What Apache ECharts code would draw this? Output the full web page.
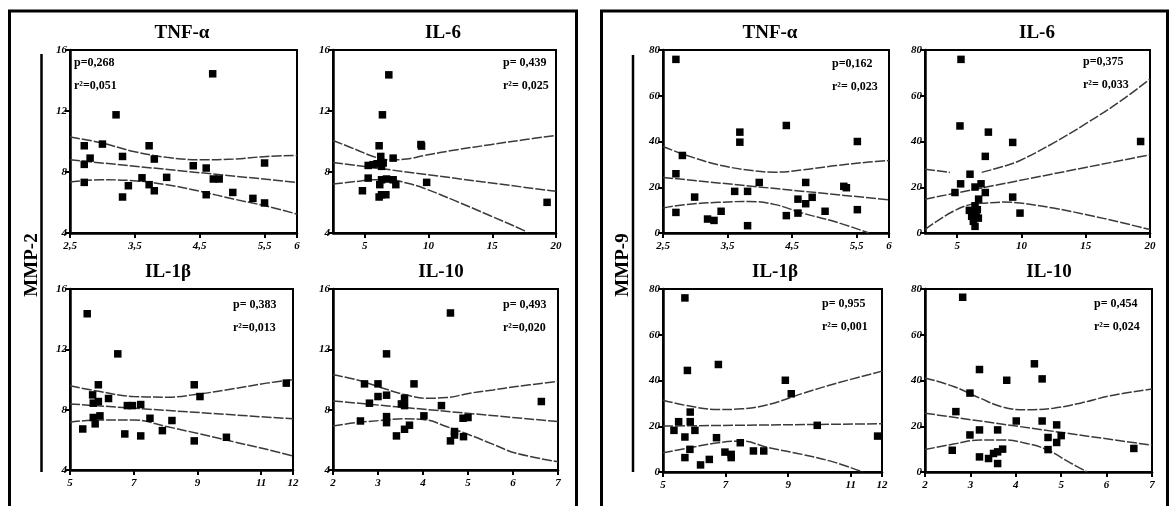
<!DOCTYPE html>
<html>
<head>
<meta charset="utf-8">
<script src="https://cdn.jsdelivr.net/npm/echarts@6/dist/echarts.min.js"></script>
<style>
html, body { margin: 0; padding: 0; background: #fff; }
#chart { width: 1170px; height: 506px; }
</style>
</head>
<body>
<div id="chart"></div>
<script>
// ---- MMP-2 (left panel) ----
const mmp2TnfPts = [[4.70,14.44],[3.21,11.75],[2.72,9.72],[3.00,9.83],[3.72,9.72],[2.81,8.91],[3.31,9.02],[3.80,8.85],[2.72,8.50],[4.40,8.41],[4.60,8.26],[5.50,8.59],[3.61,7.62],[3.99,7.65],[4.71,7.54],[4.80,7.54],[2.72,7.32],[3.40,7.10],[3.72,7.17],[3.80,6.77],[3.31,6.36],[4.60,6.51],[5.01,6.66],[5.32,6.27],[5.50,5.97]];
const mmp2TnfFit = [[2.5,8.80],[6,7.32]];
const mmp2TnfUp = [[2.5,10.29],[2.96,9.94],[3.48,9.35],[3.99,8.96],[4.51,8.80],[5.02,8.85],[5.54,9.02],[6,9.09]];
const mmp2TnfLo = [[2.5,7.34],[2.96,7.49],[3.48,7.43],[3.99,7.17],[4.51,6.73],[5.02,6.23],[5.54,5.75],[6,5.24]];

const mmp2Il6Pts = [[6.88,14.37],[6.38,11.75],[6.12,9.72],[9.40,9.80],[9.45,9.70],[6.25,9.02],[7.22,8.91],[5.26,8.43],[5.65,8.48],[5.96,8.54],[6.44,8.59],[6.31,8.37],[5.26,7.60],[6.31,7.49],[6.70,7.54],[7.22,7.49],[7.43,7.17],[6.17,7.17],[4.81,6.77],[9.85,7.32],[6.31,6.51],[6.12,6.36],[6.65,6.51],[19.3,6.01]];
const mmp2Il6Fit = [[2.5,8.63],[20,6.73]];
const mmp2Il6Up = [[2.5,10.07],[4.34,9.46],[5.65,9.02],[6.96,8.80],[8.27,8.85],[9.59,9.07],[12.21,9.46],[14.84,9.79],[17.46,10.11],[20,10.40]];
const mmp2Il6Lo = [[2.5,7.21],[4.34,7.38],[5.65,7.49],[6.96,7.49],[8.27,7.28],[9.59,6.95],[12.21,6.07],[14.84,5.13],[17.46,4.17],[17.72,4.0]];

const mmp2Il1bPts = [[5.54,14.36],[6.50,11.70],[5.89,9.65],[8.90,9.65],[11.79,9.76],[9.08,8.87],[5.71,8.98],[5.73,8.43],[5.89,8.54],[6.21,8.74],[6.80,8.27],[6.96,8.27],[7.22,8.34],[5.73,7.48],[5.94,7.59],[5.79,7.06],[7.51,7.43],[8.20,7.28],[5.40,6.72],[6.72,6.39],[7.22,6.26],[7.90,6.61],[8.90,5.93],[9.91,6.17]];
const mmp2Il1bFit = [[5,8.38],[12,7.39]];
const mmp2Il1bUp = [[5,9.58],[5.94,9.20],[6.99,8.87],[8.03,8.83],[9.08,9.05],[10.12,9.38],[11.17,9.76],[12,9.98]];
const mmp2Il1bLo = [[5,7.17],[5.94,7.32],[6.99,7.32],[8.03,6.88],[9.08,6.39],[10.12,5.88],[11.17,5.37],[12,4.93]];

const mmp2Il10Pts = [[4.61,14.41],[3.19,11.70],[2.70,9.71],[3.00,9.71],[3.80,9.71],[3.00,8.87],[3.19,8.96],[3.59,8.76],[2.81,8.43],[3.52,8.38],[3.59,8.27],[4.41,8.27],[6.63,8.54],[2.61,7.25],[3.19,7.54],[3.19,7.14],[4.02,7.59],[4.89,7.43],[5.00,7.48],[3.70,6.97],[3.59,6.70],[3.41,6.26],[4.70,6.55],[4.70,6.32],[4.61,5.93],[4.90,6.21]];
const mmp2Il10Fit = [[2,8.58],[7,7.21]];
const mmp2Il10Up = [[2,10.31],[2.52,9.98],[3.04,9.49],[3.56,9.03],[4.07,8.76],[4.52,8.80],[5.04,9.09],[5.56,9.31],[6.07,9.53],[7,9.87]];
const mmp2Il10Lo = [[2,6.92],[2.52,7.14],[3.04,7.28],[3.56,7.39],[4.07,7.32],[4.52,6.88],[5.04,6.32],[5.56,5.70],[6.07,5.11],[7,4.55]];

// ---- MMP-9 (right panel) ----
const mmp9TnfPts = [[2.70,75.9],[3.69,44.1],[3.69,39.7],[4.41,47.0],[5.51,40.0],[2.80,33.9],[2.70,25.9],[3.99,22.1],[4.71,22.1],[5.30,20.4],[5.34,19.8],[3.61,18.2],[3.81,18.2],[2.99,15.7],[4.59,14.8],[4.81,15.6],[4.71,12.8],[2.70,9.0],[3.40,9.5],[4.59,8.7],[5.01,9.5],[5.51,10.2],[4.41,7.6],[3.19,6.1],[3.29,5.5],[3.81,3.2]];
const mmp9TnfFit = [[2.5,24.3],[6,14.5]];
const mmp9TnfUp = [[2.5,37.8],[2.84,34.2],[3.36,29.8],[3.88,27.3],[4.24,26.6],[4.66,27.6],[5.18,29.5],[5.69,31.0],[6,31.7]];
const mmp9TnfLo = [[2.5,10.9],[2.84,12.4],[3.36,13.4],[3.82,13.8],[4.24,12.4],[4.66,8.7],[5.18,4.8],[5.69,0]];

const mmp9Il6Pts = [[5.30,75.9],[5.22,46.8],[7.43,44.1],[9.32,39.6],[19.27,40.0],[7.19,33.5],[6.00,25.7],[5.27,21.5],[6.86,21.5],[6.39,20.1],[4.83,17.7],[7.19,17.7],[9.32,15.7],[6.67,14.8],[6.39,11.9],[9.89,8.7],[5.95,9.9],[6.26,9.5],[6.57,10.2],[6.13,7.3],[6.47,8.0],[6.26,5.1],[6.39,2.9],[6.65,6.5]];
const mmp9Il6Fit = [[2.5,14.8],[20,34.2]];
const mmp9Il6Up = [[2.5,27.9],[4.44,26.5],[5.6,'-'],[6.91,26.5],[8.59,29.1],[9.89,31.7],[12.48,39.3],[15.07,48.0],[17.67,57.5],[20,67.3]];
const mmp9Il6Lo = [[2.5,1.5],[3.41,5.1],[4.70,9.5],[6.0,12.4],[7.30,13.1],[8.59,13.5],[9.89,13.1],[12.48,10.9],[15.07,8.0],[17.67,4.7],[20,1.5]];

const mmp9Il1bPts = [[5.70,76.1],[5.78,44.4],[6.77,47.0],[8.91,40.1],[9.10,34.2],[5.87,26.2],[5.50,22.0],[5.87,22.0],[5.35,18.2],[6.02,18.2],[5.70,15.3],[6.71,15.0],[9.93,20.4],[11.86,15.7],[5.86,9.9],[5.70,6.3],[6.98,8.7],[7.18,6.3],[7.18,7.7],[7.47,12.8],[7.89,9.2],[8.22,9.2],[6.48,5.5],[6.20,3.1]];
const mmp9Il1bFit = [[5,20.1],[12,21.1]];
const mmp9Il1bUp = [[5,31.4],[5.70,29.2],[6.77,27.3],[7.52,27.6],[8.38,29.5],[9.45,34.3],[10.52,38.7],[12,44.1]];
const mmp9Il1bLo = [[5,8.4],[5.70,10.2],[6.77,12.8],[7.52,13.5],[8.38,10.6],[9.45,7.7],[10.52,4.1],[11.38,0]];

const mmp9Il10Pts = [[2.83,76.4],[4.41,47.3],[3.20,44.8],[3.80,40.1],[4.58,40.7],[2.99,34.5],[2.68,26.4],[4.01,22.3],[4.58,22.3],[4.90,20.6],[3.20,18.4],[3.60,18.4],[2.99,16.2],[4.71,15.1],[5.00,15.9],[4.90,12.9],[2.60,9.5],[4.71,9.8],[6.60,10.3],[3.20,6.6],[3.40,5.9],[3.51,8.1],[3.60,8.8],[3.71,10.0],[3.60,3.7]];
const mmp9Il10Fit = [[2,25.7],[7,11.7]];
const mmp9Il10Up = [[2,41.1],[2.63,37.4],[3.21,32.3],[3.73,28.3],[4.24,27.2],[4.83,27.9],[5.42,30.1],[6.08,33.3],[7,36.3]];
const mmp9Il10Lo = [[2,9.8],[2.63,12.2],[3.21,14.0],[3.73,14.0],[4.24,12.5],[4.68,9.8],[5.2,4.0],[5.57,0]];

// tick values
const tnfTicks = [2.5, 3.5, 4.5, 5.5, 6];
const il6Ticks = [5, 10, 15, 20];
const il1bTicks = [5, 7, 9, 11, 12];
const il10Ticks = [2, 3, 4, 5, 6, 7];

const plotTitles = ['TNF-α', 'IL-6', 'IL-1β', 'IL-10', 'TNF-α', 'IL-6', 'IL-1β', 'IL-10'];
const pTexts = ['p=0,268', 'p= 0,439', 'p= 0,383', 'p= 0,493', 'p=0,162', 'p=0,375', 'p= 0,955', 'p= 0,454'];
const rTexts = ['r²=0,051', 'r²= 0,025', 'r²=0,013', 'r²=0,020', 'r²= 0,023', 'r²= 0,033', 'r²= 0,001', 'r²= 0,024'];

const plots = [
  { pts: mmp2TnfPts, fit: mmp2TnfFit, up: mmp2TnfUp, lo: mmp2TnfLo, xr: [2.5, 6], ticks: tnfTicks, yr: [4, 16, 4],
    box: [70, 50, 227, 183], tpos: [182, 33], spos: [74, 63] },
  { pts: mmp2Il6Pts, fit: mmp2Il6Fit, up: mmp2Il6Up, lo: mmp2Il6Lo, xr: [2.5, 20], ticks: il6Ticks, yr: [4, 16, 4],
    box: [333, 50, 223, 183], tpos: [443, 33], spos: [503, 63] },
  { pts: mmp2Il1bPts, fit: mmp2Il1bFit, up: mmp2Il1bUp, lo: mmp2Il1bLo, xr: [5, 12], ticks: il1bTicks, yr: [4, 16, 4],
    box: [70, 289, 223, 181], tpos: [168, 272], spos: [233, 305] },
  { pts: mmp2Il10Pts, fit: mmp2Il10Fit, up: mmp2Il10Up, lo: mmp2Il10Lo, xr: [2, 7], ticks: il10Ticks, yr: [4, 16, 4],
    box: [333, 289, 225, 181], tpos: [441, 272], spos: [503, 305] },
  { pts: mmp9TnfPts, fit: mmp9TnfFit, up: mmp9TnfUp, lo: mmp9TnfLo, xr: [2.5, 6], ticks: tnfTicks, yr: [0, 80, 20],
    box: [663, 50, 226, 183], tpos: [770, 33], spos: [832, 64] },
  { pts: mmp9Il6Pts, fit: mmp9Il6Fit, up: mmp9Il6Up, lo: mmp9Il6Lo, xr: [2.5, 20], ticks: il6Ticks, yr: [0, 80, 20],
    box: [925, 50, 225, 183], tpos: [1037, 33], spos: [1083, 62] },
  { pts: mmp9Il1bPts, fit: mmp9Il1bFit, up: mmp9Il1bUp, lo: mmp9Il1bLo, xr: [5, 12], ticks: il1bTicks, yr: [0, 80, 20],
    box: [663, 289, 219, 183], tpos: [775, 272], spos: [822, 304] },
  { pts: mmp9Il10Pts, fit: mmp9Il10Fit, up: mmp9Il10Up, lo: mmp9Il10Lo, xr: [2, 7], ticks: il10Ticks, yr: [0, 80, 20],
    box: [925, 289, 227, 183], tpos: [1049, 272], spos: [1094, 304] }
];

const serif = '"Liberation Serif", "DejaVu Serif", serif';
const axisLineStyle = { color: '#000', width: 2.5 };
const bandStyle = { color: '#3a3a3a', width: 1.5, type: [10, 2] };

var grids = [], xAxes = [], yAxes = [], series = [], graphics = [];

plots.forEach(function (p, i) {
  grids.push({
    left: p.box[0], top: p.box[1], width: p.box[2], height: p.box[3],
    show: true, borderColor: '#000', borderWidth: 2, containLabel: false
  });
  xAxes.push({
    gridIndex: i, type: 'value', min: p.xr[0], max: p.xr[1],
    axisLine: { show: true, onZero: false, lineStyle: axisLineStyle },
    axisTick: { show: true, customValues: p.ticks, length: 5, lineStyle: { color: '#000', width: 2 } },
    axisLabel: {
      customValues: p.ticks, margin: 8, color: '#000',
      fontFamily: serif, fontWeight: 'bold', fontStyle: 'italic', fontSize: 11,
      formatter: function (v) { return String(v).replace('.', ','); }
    },
    splitLine: { show: false }
  });
  yAxes.push({
    gridIndex: i, type: 'value', min: p.yr[0], max: p.yr[1], interval: p.yr[2],
    axisLine: { show: true, onZero: false, lineStyle: axisLineStyle },
    axisTick: { show: true, length: 5, lineStyle: { color: '#000', width: 2 } },
    axisLabel: {
      margin: 3, color: '#000', showMinLabel: true, showMaxLabel: true,
      fontFamily: serif, fontWeight: 'bold', fontStyle: 'italic', fontSize: 11
    },
    splitLine: { show: false }
  });

  series.push({ type: 'line', xAxisIndex: i, yAxisIndex: i, data: p.fit, symbol: 'none', lineStyle: bandStyle, silent: true });
  series.push({ type: 'line', xAxisIndex: i, yAxisIndex: i, data: p.up, symbol: 'none', smooth: 0.4, lineStyle: bandStyle, silent: true });
  series.push({ type: 'line', xAxisIndex: i, yAxisIndex: i, data: p.lo, symbol: 'none', smooth: 0.4, lineStyle: bandStyle, silent: true });
  series.push({ type: 'scatter', xAxisIndex: i, yAxisIndex: i, data: p.pts, symbol: 'rect', symbolSize: 7.5,
    itemStyle: { color: '#000', opacity: 1 }, z: 5 });

  graphics.push({
    type: 'text', x: p.tpos[0], y: p.tpos[1],
    style: { text: plotTitles[i], fill: '#000', font: 'bold 19px ' + serif, align: 'center', verticalAlign: 'middle' }
  });
  graphics.push({
    type: 'text', x: p.spos[0], y: p.spos[1], z: 10,
    style: { text: pTexts[i], fill: '#000', font: 'bold 12px ' + serif, align: 'left', verticalAlign: 'middle' }
  });
  graphics.push({
    type: 'text', x: p.spos[0], y: p.spos[1] + 23, z: 10,
    style: { text: rTexts[i], fill: '#000', font: 'bold 12px ' + serif, align: 'left', verticalAlign: 'middle' }
  });
});

// panel frames (open at the bottom edge of the picture)
graphics.push({ type: 'rect', shape: { x: 9.5, y: 11, width: 567, height: 520 },
  style: { fill: 'none', stroke: '#000', lineWidth: 3 } });
graphics.push({ type: 'rect', shape: { x: 601.5, y: 11, width: 566, height: 520 },
  style: { fill: 'none', stroke: '#000', lineWidth: 3 } });
// y-axis name bars and labels
graphics.push({ type: 'line', shape: { x1: 41.5, y1: 54, x2: 41.5, y2: 472 }, style: { stroke: '#000', lineWidth: 2.5 } });
graphics.push({ type: 'line', shape: { x1: 633, y1: 55, x2: 633, y2: 472 }, style: { stroke: '#000', lineWidth: 2.5 } });
graphics.push({ type: 'text', x: 32, y: 265, rotation: Math.PI / 2,
  style: { text: 'MMP-2', fill: '#000', font: 'bold 19px ' + serif, align: 'center', verticalAlign: 'middle' } });
graphics.push({ type: 'text', x: 623, y: 265, rotation: Math.PI / 2,
  style: { text: 'MMP-9', fill: '#000', font: 'bold 19px ' + serif, align: 'center', verticalAlign: 'middle' } });

var myChart = echarts.init(document.getElementById('chart'));
myChart.setOption({
  animation: false,
  backgroundColor: '#fff',
  grid: grids,
  xAxis: xAxes,
  yAxis: yAxes,
  series: series,
  graphic: graphics
});
</script>
</body>
</html>
